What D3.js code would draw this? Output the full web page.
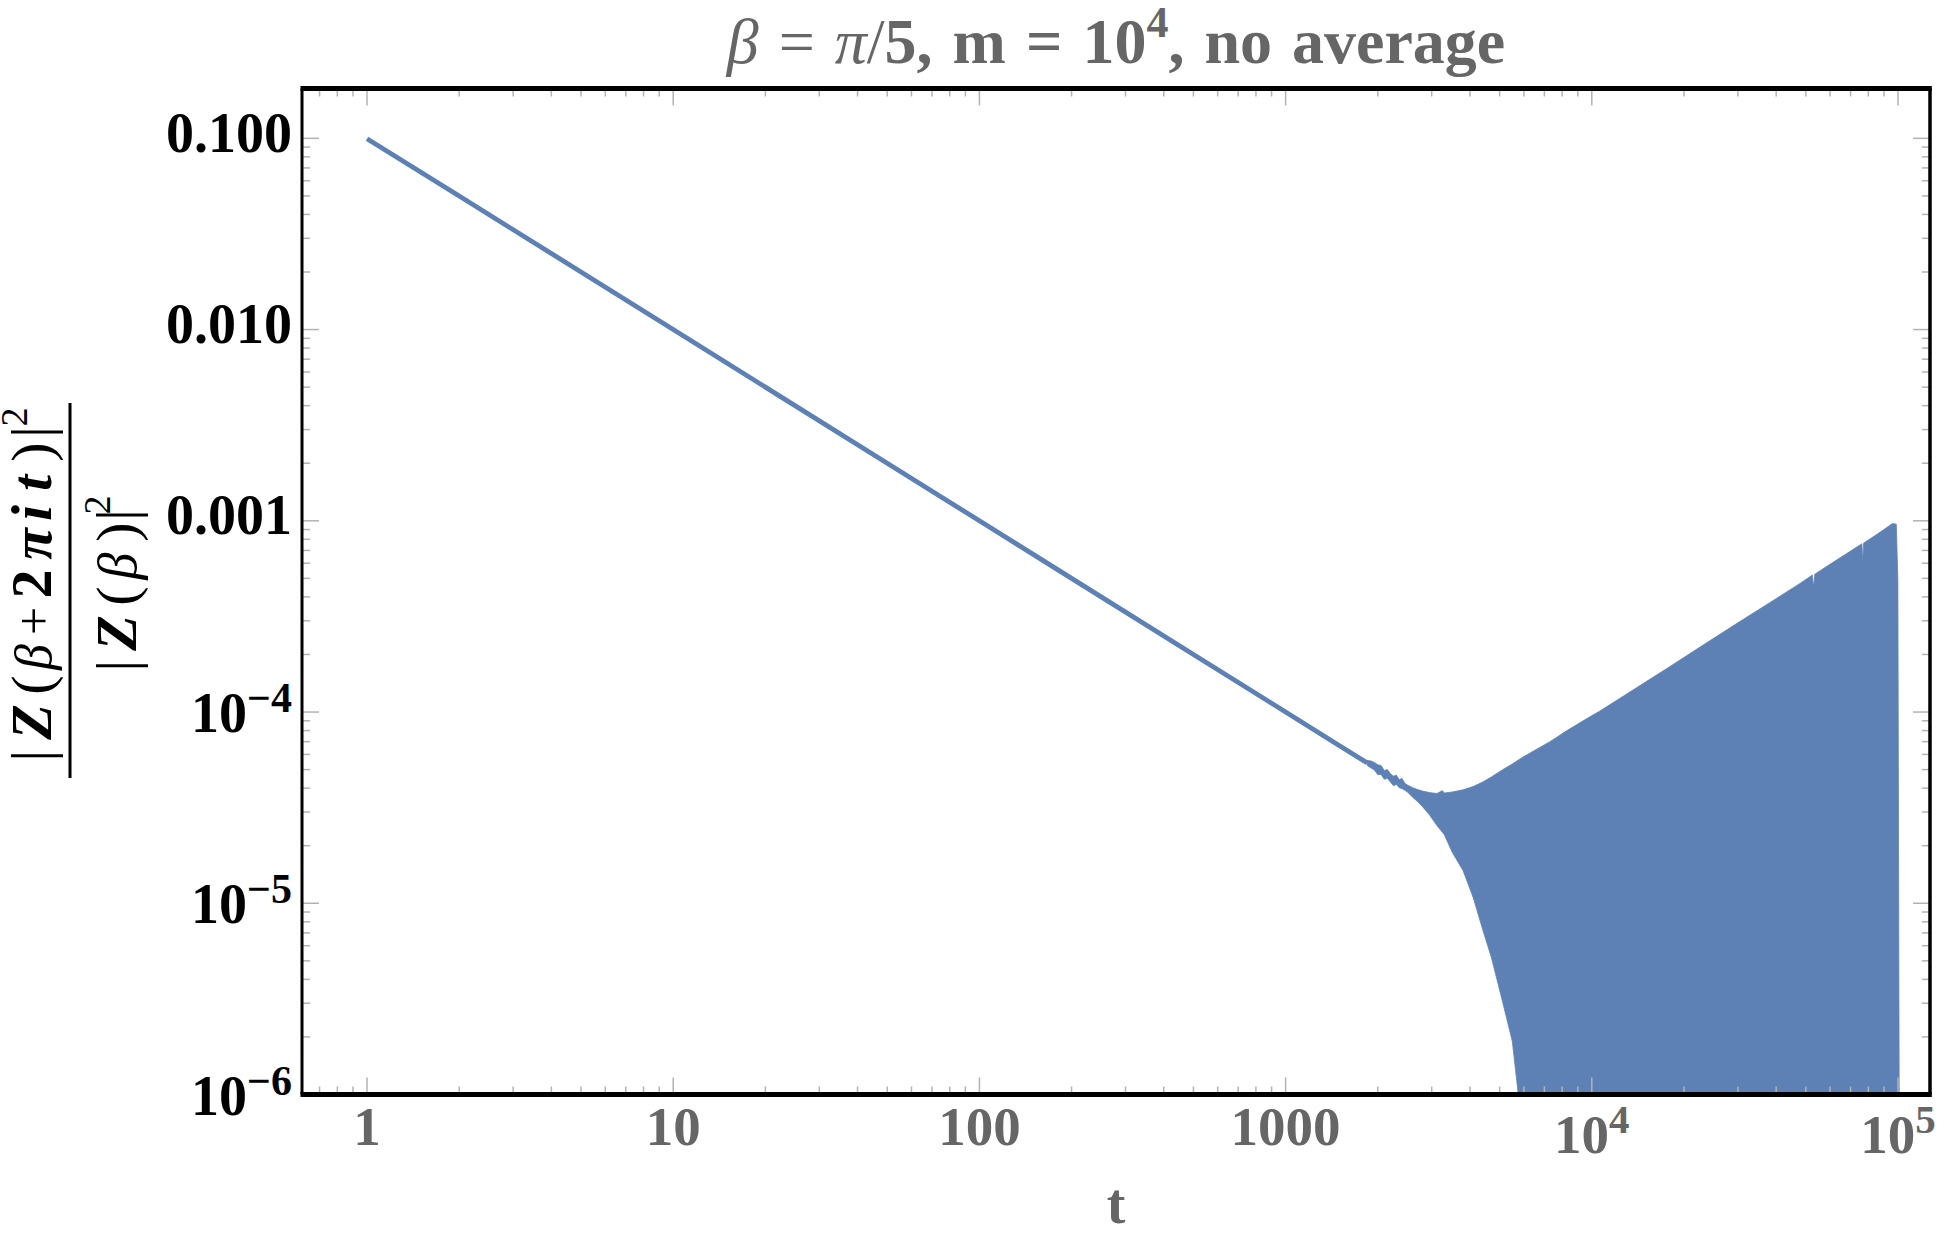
<!DOCTYPE html>
<html>
<head>
<meta charset="utf-8">
<title>beta = pi/5, m = 10^4, no average</title>
<script src="https://d3js.org/d3.v7.min.js"></script>
<style>
  body { margin: 0; background: #fff; }
  text { font-family: "Liberation Serif", "Times New Roman", serif; }
</style>
</head>
<body>
<script>
var width = 1945, height = 1242;

// straight decay part
var lineT = [1, 2, 5, 10, 20, 50, 100, 200, 500, 1000, 1500, 1850];
var lineY = [0.0995, 0.0499, 0.0200, 0.0100, 0.00500, 0.00200, 0.00100, 0.000500, 0.000200, 0.000100, 0.0000667, 0.0000541];

// oscillating part: upper / lower envelope of the filled band
var bandT  = [1850, 1900, 1950, 2000, 2050, 2100, 2150, 2200, 2250, 2300, 2350, 2400, 2450, 2500, 2600, 2700, 2800, 2950, 3120, 3250, 3300, 3500, 3800, 4100, 4400, 4700, 5100, 5500, 5741, 6000, 6500, 7300, 8300, 9700, 10600, 14000, 18000, 22500, 30000, 38000, 48000, 52500, 53000, 53500, 61000, 68000, 76200, 76700, 77200, 88000, 96000, 98700, 99900, 101000];
var bandHi = [5.58e-5, 5.55e-5, 5.45e-5, 5.30e-5, 5.25e-5, 4.95e-5, 5.00e-5, 4.75e-5, 4.62e-5, 4.68e-5, 4.42e-5, 4.50e-5, 4.24e-5, 4.15e-5, 4.02e-5, 3.93e-5, 3.86e-5, 3.79e-5, 3.75e-5, 3.88e-5, 3.77e-5, 3.82e-5, 3.92e-5, 4.08e-5, 4.30e-5, 4.58e-5, 4.98e-5, 5.35e-5, 5.60e-5, 5.85e-5, 6.30e-5, 7.00e-5, 8.00e-5, 9.30e-5, 1.01e-4, 1.34e-4, 1.73e-4, 2.18e-4, 2.93e-4, 3.72e-4, 4.72e-4, 5.20e-4, 4.52e-4, 5.26e-4, 6.03e-4, 6.74e-4, 7.58e-4, 6.10e-4, 7.64e-4, 8.78e-4, 9.68e-4, 9.60e-4, 4.90e-4, 5e-7];
var bandLo = [5.24e-5, 5.10e-5, 4.97e-5, 4.70e-5, 4.72e-5, 4.45e-5, 4.50e-5, 4.30e-5, 4.12e-5, 4.18e-5, 4.02e-5, 3.98e-5, 3.90e-5, 3.82e-5, 3.58e-5, 3.40e-5, 3.20e-5, 2.90e-5, 2.55e-5, 2.35e-5, 2.28e-5, 1.85e-5, 1.48e-5, 1.07e-5, 7.3e-6, 5.2e-6, 3.1e-6, 1.9e-6, 1.03e-6, 6e-7, 5e-7, 5e-7, 5e-7, 5e-7, 5e-7, 5e-7, 5e-7, 5e-7, 5e-7, 5e-7, 5e-7, 5e-7, 5e-7, 5e-7, 5e-7, 5e-7, 5e-7, 5e-7, 5e-7, 5e-7, 5e-7, 5e-7, 5e-7, 5e-7];

var xTicks = [1, 10, 100, 1000, 1e4, 1e5];
var xTickLabels = ["1", "10", "100", "1000", "10^4", "10^5"];
var yTicks = [0.1, 0.01, 0.001, 1e-4, 1e-5, 1e-6];
var yTickLabels = ["0.100", "0.010", "0.001", "10^\u22124", "10^\u22125", "10^\u22126"];

var blue = "#5e81b5";
var tickGray = "#b3b3b3";

var svg = d3.select("body").append("svg")
    .attr("width", width)
    .attr("height", height);
svg.append("rect").attr("width", width).attr("height", height).attr("fill", "#fff");

// plot box (note: "top" is reserved on window, so use other names)
var pLeft = 302, pRight = 1930, pTop = 88.5, pBottom = 1094.5;
var x = d3.scaleLog().domain([0.6133, 127200]).range([pLeft, pRight]);
var y = d3.scaleLog().domain([1e-6, 0.1822]).range([pBottom, pTop]);

svg.append("clipPath").attr("id", "plotclip")
  .append("rect").attr("x", pLeft).attr("y", pTop)
  .attr("width", pRight - pLeft).attr("height", pBottom - pTop);

var plot = svg.append("g").attr("clip-path", "url(#plotclip)");

// filled band
var bandData = bandT.map(function(t, i) { return {t: t, hi: bandHi[i], lo: bandLo[i]}; });
var area = d3.area()
    .x(function(d) { return x(d.t); })
    .y0(function(d) { return y(d.lo); })
    .y1(function(d) { return y(d.hi); });
plot.append("path")
    .attr("d", area(bandData))
    .attr("fill", blue)
    .attr("stroke", blue)
    .attr("stroke-width", 0.8);

// line
var lineData = lineT.map(function(t, i) { return {t: t, v: lineY[i]}; });
var line = d3.line()
    .x(function(d) { return x(d.t); })
    .y(function(d) { return y(d.v); });
plot.append("path")
    .attr("d", line(lineData))
    .attr("fill", "none")
    .attr("stroke", blue)
    .attr("stroke-width", 4.8);

// ticks on all four sides
function isMajor(v) {
    var l = Math.log10(v);
    return Math.abs(l - Math.round(l)) < 1e-9;
}
var ticksG = svg.append("g").attr("stroke", tickGray).attr("stroke-width", 1.5);
x.ticks(30).forEach(function(v) {
    var px = x(v);
    if (px < pLeft + 2 || px > pRight - 2) return;
    var len = isMajor(v) ? 17 : 8;
    ticksG.append("line").attr("x1", px).attr("x2", px).attr("y1", pBottom).attr("y2", pBottom - len);
    ticksG.append("line").attr("x1", px).attr("x2", px).attr("y1", pTop).attr("y2", pTop + len);
});
y.ticks(30).forEach(function(v) {
    var py = y(v);
    if (py < pTop + 2 || py > pBottom - 2) return;
    var len = isMajor(v) ? 17 : 8;
    ticksG.append("line").attr("x1", pLeft).attr("x2", pLeft + len).attr("y1", py).attr("y2", py);
    ticksG.append("line").attr("x1", pRight).attr("x2", pRight - len).attr("y1", py).attr("y2", py);
});

// frame
svg.append("line").attr("x1", pLeft - 1.5).attr("x2", pRight + 1.8).attr("y1", pTop).attr("y2", pTop)
    .attr("stroke", "#000").attr("stroke-width", 5);
svg.append("line").attr("x1", pLeft - 1.5).attr("x2", pRight + 1.8).attr("y1", pBottom).attr("y2", pBottom)
    .attr("stroke", "#000").attr("stroke-width", 5);
svg.append("line").attr("x1", pLeft).attr("x2", pLeft).attr("y1", pTop).attr("y2", pBottom)
    .attr("stroke", "#000").attr("stroke-width", 3);
svg.append("line").attr("x1", pRight).attr("x2", pRight).attr("y1", pTop).attr("y2", pBottom)
    .attr("stroke", "#000").attr("stroke-width", 3.5);

// tick labels
function powLabel(sel, s, supSize, raise) {
    var parts = s.split("^");
    sel.append("tspan").text(parts[0]);
    if (parts.length > 1) {
        sel.append("tspan").attr("font-size", supSize).attr("dy", -raise).text(parts[1]);
    }
}
xTicks.forEach(function(v, i) {
    var lab = xTickLabels[i];
    var t = svg.append("text")
        .attr("x", x(v))
        .attr("y", lab.indexOf("^") >= 0 ? 1153 : 1145)
        .attr("text-anchor", "middle")
        .attr("font-size", 55).attr("font-weight", "bold").attr("fill", "#666");
    powLabel(t, lab, 41, 20);
});
yTicks.forEach(function(v, i) {
    var lab = yTickLabels[i];
    var t = svg.append("text")
        .attr("x", 292)
        .attr("y", y(v) + (lab.indexOf("^") >= 0 ? 20 : 13.5))
        .attr("text-anchor", "end")
        .attr("font-size", 56).attr("font-weight", "bold").attr("fill", "#000");
    powLabel(t, lab, 42, 20);
});

// title
var title = svg.append("text")
    .attr("x", 1116).attr("y", 63)
    .attr("text-anchor", "middle")
    .attr("font-size", 64).attr("word-spacing", 4).attr("fill", "#666");
title.append("tspan").attr("font-style", "italic").text("\u03b2");
title.append("tspan").text(" = ");
title.append("tspan").attr("font-style", "italic").text("\u03c0");
title.append("tspan").text("/");
title.append("tspan").attr("font-weight", "bold").text("5, m = 10");
title.append("tspan").attr("font-weight", "bold").attr("font-size", 44).attr("dy", -26).text("4");
title.append("tspan").attr("font-weight", "bold").attr("dy", 26).text(", no average");

// x axis label
svg.append("text")
    .attr("x", 1116).attr("y", 1223)
    .attr("text-anchor", "middle")
    .attr("font-size", 56).attr("font-weight", "bold").attr("fill", "#666")
    .text("t");

// y axis label: rotated fraction
var yl = svg.append("g").attr("transform", "translate(0,590) rotate(-90)");
function glyphs(g, items, base) {
    items.forEach(function(it) {
        g.append("text")
            .attr("x", it[1])
            .attr("y", base - (it[3] || 0))
            .attr("text-anchor", "middle")
            .attr("font-size", it[4] || 58)
            .attr("font-weight", it[2].indexOf("b") >= 0 ? "bold" : "normal")
            .attr("font-style", it[2].indexOf("i") >= 0 ? "italic" : "normal")
            .attr("fill", "#000")
            .text(it[0]);
    });
}
glyphs(yl, [
    ["|", -165.7, ""], ["Z", -132, "bi"], ["(", -95, ""], ["\u03b2", -67, "i", 0, 52],
    ["+", -31, "", 0, 50], ["2", 6, "b"], ["\u03c0", 46, "bi"], ["i", 77, "bi"], ["t", 107, "bi"],
    [")", 138, ""], ["|", 158, ""], ["2", 173, "", 24, 38]
], 51);
yl.append("rect").attr("x", -188).attr("y", 68.5).attr("width", 375).attr("height", 3).attr("fill", "#000");
glyphs(yl, [
    ["|", -75.7, ""], ["Z", -43, "bi"], ["(", -6, ""], ["\u03b2", 24, "i", 0, 54],
    [")", 58, ""], ["|", 75, ""], ["2", 85, "", 26, 38]
], 136);
</script>
</body>
</html>
